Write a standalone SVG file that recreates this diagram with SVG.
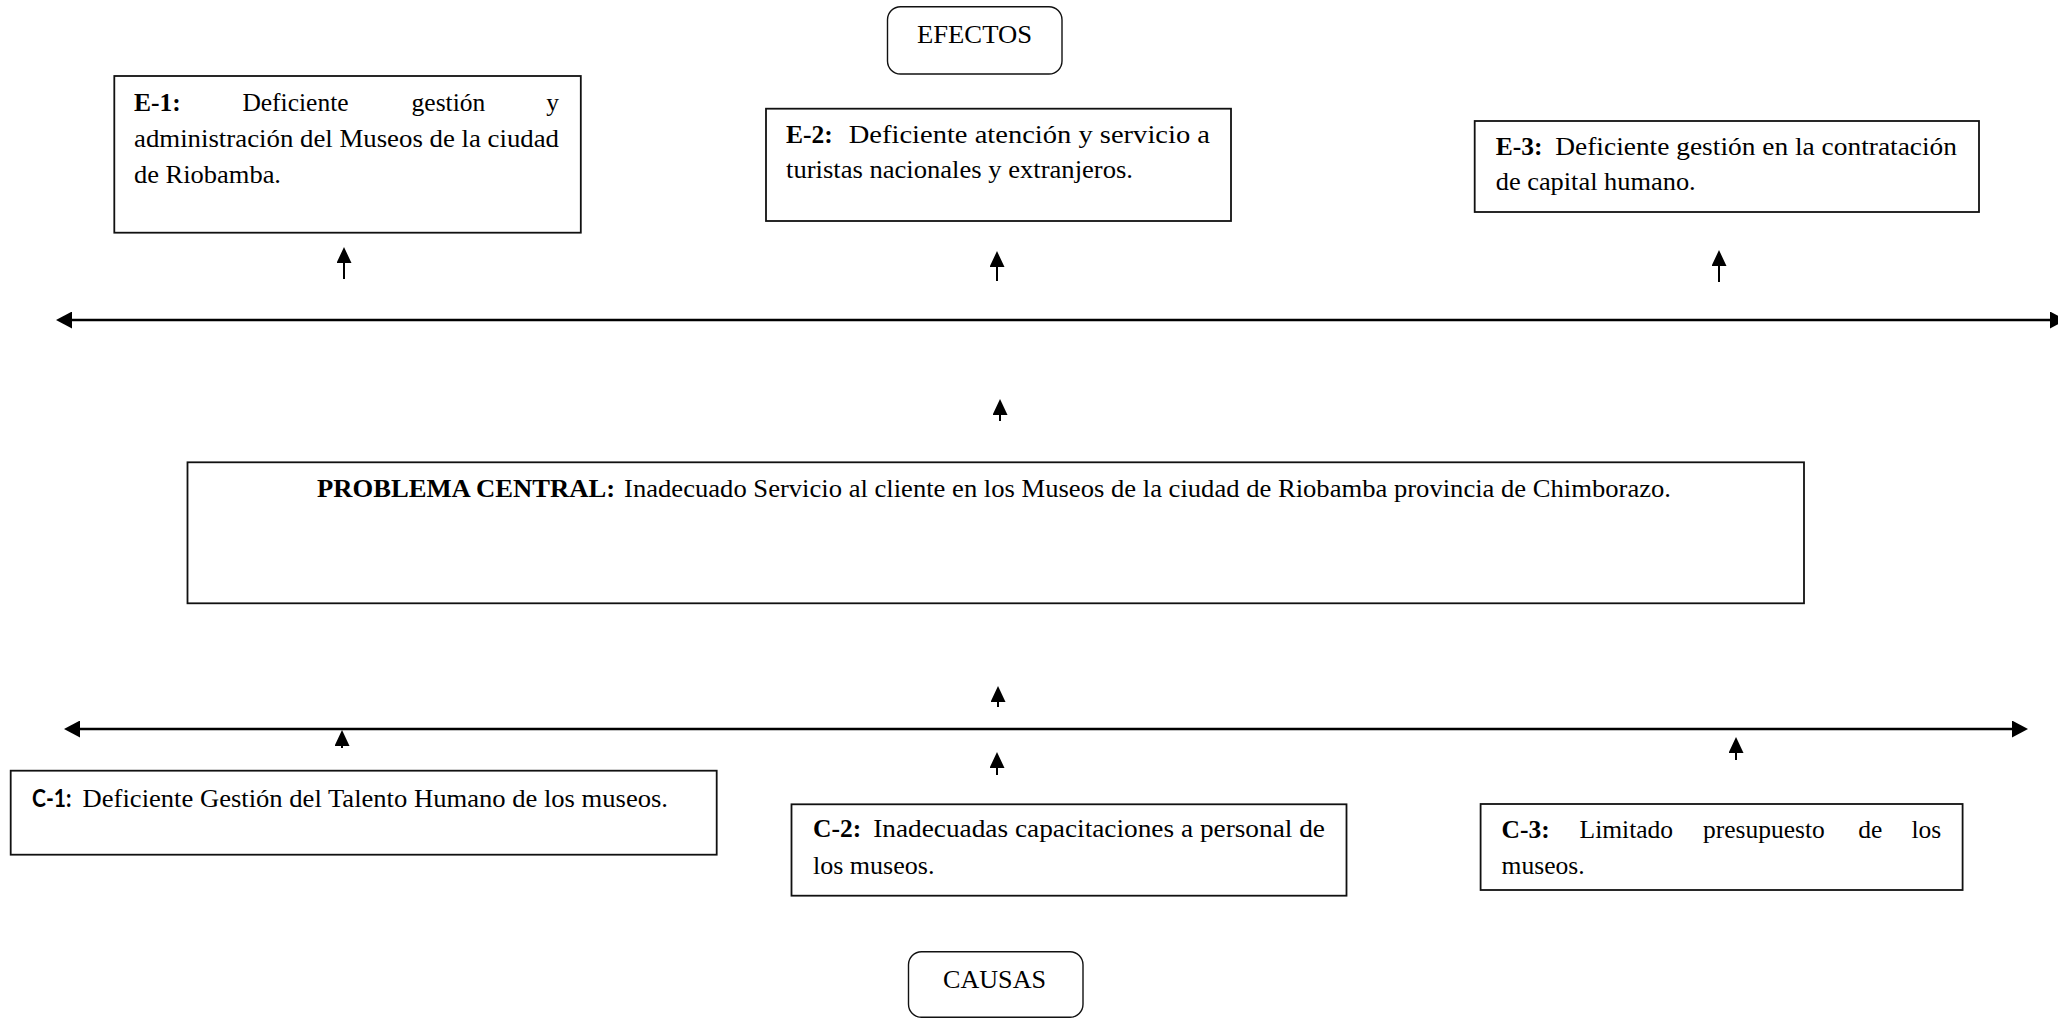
<svg xmlns="http://www.w3.org/2000/svg" width="2058" height="1019" viewBox="0 0 2058 1019">
  <style>
    .box { fill: #ffffff; stroke: #111111; stroke-width: 1.8; }
    .tag { fill: #ffffff; stroke: #111111; stroke-width: 1.4; }
    .t { font-family: "Liberation Serif", "Times New Roman", serif; font-size: 25.5px; fill: #000000; }
    .b { font-weight: bold; }
    .sans { font-family: "Lato", "Liberation Sans", sans-serif; font-weight: bold; font-size: 24px; fill: #000000; }
    .axis { stroke: #000000; stroke-width: 2.6; fill: none; }
    .stem { stroke: #000000; stroke-width: 2; fill: none; }
  </style>
  <defs>
    <marker id="head-sm" viewBox="0 0 16 15" refX="6" refY="7.5" markerWidth="16" markerHeight="15" markerUnits="userSpaceOnUse" orient="auto">
      <path d="M0,0 L16,7.5 L0,15 Z" fill="#000000"/>
    </marker>
    <marker id="head-lg" viewBox="0 0 16 17" refX="6" refY="8.5" markerWidth="16" markerHeight="17" markerUnits="userSpaceOnUse" orient="auto-start-reverse">
      <path d="M0,0 L16,8.5 L0,17 Z" fill="#000000"/>
    </marker>
  </defs>
  <rect width="2058" height="1019" fill="#ffffff"/>

  <!-- connectors -->
  <g id="connectors">
    <line class="axis" x1="66" y1="320" x2="2056" y2="320" marker-start="url(#head-lg)" marker-end="url(#head-lg)"/>
    <line class="axis" x1="74" y1="729" x2="2018" y2="729" marker-start="url(#head-lg)" marker-end="url(#head-lg)"/>
    <line class="stem" x1="344" y1="279" x2="344" y2="257" marker-end="url(#head-sm)"/>
    <line class="stem" x1="997" y1="281" x2="997" y2="261" marker-end="url(#head-sm)"/>
    <line class="stem" x1="1719" y1="282" x2="1719" y2="260" marker-end="url(#head-sm)"/>
    <line class="stem" x1="1000" y1="421" x2="1000" y2="409" marker-end="url(#head-sm)"/>
    <line class="stem" x1="998" y1="707" x2="998" y2="696" marker-end="url(#head-sm)"/>
    <line class="stem" x1="342" y1="748" x2="342" y2="740" marker-end="url(#head-sm)"/>
    <line class="stem" x1="997" y1="775" x2="997" y2="762" marker-end="url(#head-sm)"/>
    <line class="stem" x1="1736" y1="760" x2="1736" y2="747" marker-end="url(#head-sm)"/>
  </g>

  <!-- effects header -->
  <g id="efectos">
    <rect class="tag" x="887.5" y="6.7" width="174.5" height="67.3" rx="13" ry="13"/>
    <text class="t" x="917" y="42.7" textLength="115" lengthAdjust="spacingAndGlyphs">EFECTOS</text>
  </g>

  <g id="e1">
    <rect class="box" x="114.3" y="76" width="466.5" height="156.7"/>
    <text class="t b" x="134" y="110.7">E-1:</text>
    <text class="t" x="242.4" y="110.7">Deficiente</text>
    <text class="t" x="411.6" y="110.7">gestión</text>
    <text class="t" x="559" y="110.7" text-anchor="end">y</text>
    <text class="t" x="134" y="146.7" textLength="425" lengthAdjust="spacingAndGlyphs">administración del Museos de la ciudad</text>
    <text class="t" x="134" y="182.7" textLength="147" lengthAdjust="spacingAndGlyphs">de Riobamba.</text>
  </g>

  <g id="e2">
    <rect class="box" x="766" y="108.7" width="465" height="112.3"/>
    <text class="t b" x="786" y="143.3">E-2:</text>
    <text class="t" x="848.7" y="143.3" textLength="361.3" lengthAdjust="spacingAndGlyphs">Deficiente atención y servicio a</text>
    <text class="t" x="786" y="178.3" textLength="347" lengthAdjust="spacingAndGlyphs">turistas nacionales y extranjeros.</text>
  </g>

  <g id="e3">
    <rect class="box" x="1474.7" y="121" width="504.3" height="91"/>
    <text class="t b" x="1495.7" y="155.3">E-3:</text>
    <text class="t" x="1555.3" y="155.3" textLength="401.7" lengthAdjust="spacingAndGlyphs">Deficiente gestión en la contratación</text>
    <text class="t" x="1495.7" y="190" textLength="200" lengthAdjust="spacingAndGlyphs">de capital humano.</text>
  </g>

  <g id="problema-central">
    <rect class="box" x="187.5" y="462.3" width="1616.5" height="141"/>
    <text class="t b" x="317" y="497.3" textLength="298" lengthAdjust="spacingAndGlyphs">PROBLEMA CENTRAL:</text>
    <text class="t" x="624.1" y="497.3" textLength="1046.9" lengthAdjust="spacingAndGlyphs">Inadecuado Servicio al cliente en los Museos de la ciudad de Riobamba provincia de Chimborazo.</text>
  </g>

  <g id="c1">
    <rect class="box" x="10.7" y="770.7" width="706" height="84"/>
    <text class="sans" x="32" y="806.7" textLength="39.4" lengthAdjust="spacingAndGlyphs">C-1:</text>
    <text class="t" x="82.6" y="806.7" textLength="585.4" lengthAdjust="spacingAndGlyphs">Deficiente Gestión del Talento Humano de los museos.</text>
  </g>

  <g id="c2">
    <rect class="box" x="791.5" y="804.3" width="555" height="91.4"/>
    <text class="t b" x="813" y="836.7">C-2:</text>
    <text class="t" x="873.2" y="836.7" textLength="451.8" lengthAdjust="spacingAndGlyphs">Inadecuadas capacitaciones a personal de</text>
    <text class="t" x="813" y="874" textLength="121.4" lengthAdjust="spacingAndGlyphs">los museos.</text>
  </g>

  <g id="c3">
    <rect class="box" x="1480.6" y="804" width="482" height="86"/>
    <text class="t b" x="1501.6" y="838.3">C-3:</text>
    <text class="t" x="1579.6" y="838.3">Limitado</text>
    <text class="t" x="1703" y="838.3">presupuesto</text>
    <text class="t" x="1858.2" y="838.3">de</text>
    <text class="t" x="1941.3" y="838.3" text-anchor="end">los</text>
    <text class="t" x="1501.6" y="874" textLength="83" lengthAdjust="spacingAndGlyphs">museos.</text>
  </g>

  <!-- causes footer -->
  <g id="causas">
    <rect class="tag" x="908.5" y="951.7" width="174.5" height="65.5" rx="13" ry="13"/>
    <text class="t" x="943" y="988.3" textLength="103" lengthAdjust="spacingAndGlyphs">CAUSAS</text>
  </g>
</svg>
